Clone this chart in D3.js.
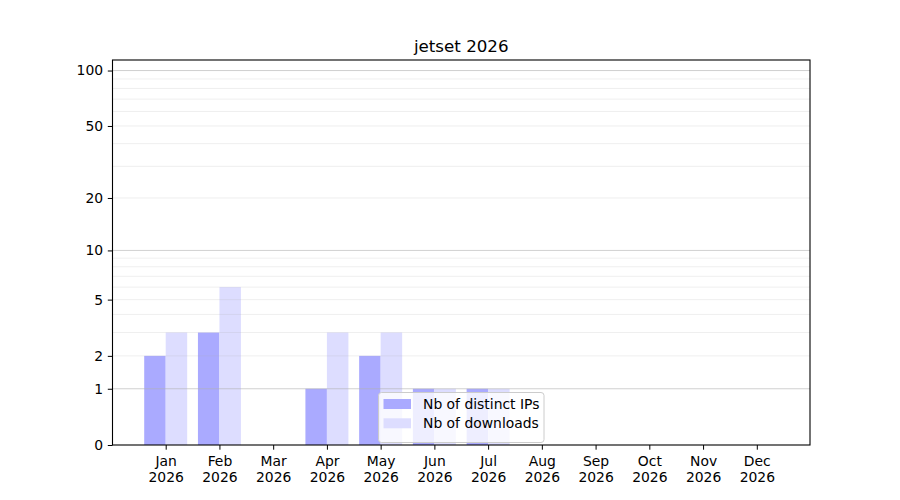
<!DOCTYPE html>
<html>
<head>
<meta charset="utf-8">
<script src="https://cdnjs.cloudflare.com/ajax/libs/d3/7.8.5/d3.min.js"></script>
<style>
  body { margin: 0; background: #fff; }
  text { font-family: "DejaVu Sans", sans-serif; fill: #000; }
</style>
</head>
<body>
<div id="chart"></div>
<script>
var monthLabels = ["Jan","Feb","Mar","Apr","May","Jun","Jul","Aug","Sep","Oct","Nov","Dec"];
var yearLabel = "2026";
var ips = [2, 3, 0, 1, 2, 1, 1, 0, 0, 0, 0, 0];
var downloads = [3, 6, 0, 3, 3, 1, 1, 0, 0, 0, 0, 0];
var yLabelTicks = [0, 1, 2, 5, 10, 20, 50, 100];
var yMajorGrid = [1, 10, 100];
var yMinorGrid = [2, 3, 4, 5, 6, 7, 8, 9, 20, 30, 40, 50, 60, 70, 80, 90];
var title = "jetset 2026";
var seriesNames = ["Nb of distinct IPs", "Nb of downloads"];
var seriesColors = ["#aaaaff", "#ddddff"];

var width = 900, height = 500;
var m = {left: 112.5, right: 90, top: 60, bottom: 55};
var barW = 0.4;
var fs = "13.9px";

var idx = d3.range(monthLabels.length);

// x range like matplotlib: data extent + 5% padding
var xmin = -barW, xmax = idx.length - 1 + barW,
    pad = (xmax - xmin) * 0.05;

var x = d3.scaleLinear()
    .domain([xmin - pad, xmax + pad])
    .range([m.left, width - m.right]);

var y = d3.scaleSymlog().constant(1)
    .domain([0, 114])
    .range([height - m.bottom, m.top]);

var svg = d3.select("#chart").append("svg")
    .attr("width", width)
    .attr("height", height);

// bars
var bars = svg.append("g");
bars.selectAll("rect.ip")
    .data(ips).enter().append("rect")
    .attr("class", "ip")
    .attr("x", function(d, i){ return x(i - barW); })
    .attr("width", function(d, i){ return x(i) - x(i - barW); })
    .attr("y", function(d){ return y(d); })
    .attr("height", function(d){ return y(0) - y(d); })
    .attr("fill", seriesColors[0]);
bars.selectAll("rect.dl")
    .data(downloads).enter().append("rect")
    .attr("class", "dl")
    .attr("x", function(d, i){ return x(i); })
    .attr("width", function(d, i){ return x(i + barW) - x(i); })
    .attr("y", function(d){ return y(d); })
    .attr("height", function(d){ return y(0) - y(d); })
    .attr("fill", seriesColors[1]);

// grid (drawn on top of bars, like matplotlib)
svg.append("g").selectAll("line.minor")
    .data(yMinorGrid).enter().append("line")
    .attr("class", "minor")
    .attr("x1", m.left).attr("x2", width - m.right)
    .attr("y1", function(d){ return y(d); })
    .attr("y2", function(d){ return y(d); })
    .attr("stroke", "#b0b0b0").attr("stroke-opacity", 0.25).attr("stroke-width", 0.8);

svg.append("g").selectAll("line.major")
    .data(yMajorGrid).enter().append("line")
    .attr("class", "major")
    .attr("x1", m.left).attr("x2", width - m.right)
    .attr("y1", function(d){ return y(d); })
    .attr("y2", function(d){ return y(d); })
    .attr("stroke", "#b0b0b0").attr("stroke-opacity", 0.6).attr("stroke-width", 1);

// axes
var yAxis = d3.axisLeft(y).tickValues(yLabelTicks).tickFormat(d3.format("d"))
    .tickSize(4.7).tickPadding(4.7);
var gy = svg.append("g").attr("transform", "translate(" + m.left + ",0)").call(yAxis);
gy.select(".domain").remove();
gy.selectAll("text").style("font-size", fs).style("font-family", "DejaVu Sans");

var xAxis = d3.axisBottom(x).tickValues(idx).tickFormat("")
    .tickSize(4.7);
var gx = svg.append("g").attr("transform", "translate(0," + (height - m.bottom) + ")").call(xAxis);
gx.select(".domain").remove();
gx.selectAll(".tick").each(function(d, i){
    var t = d3.select(this).append("text")
        .attr("text-anchor", "middle")
        .style("font-size", fs)
        .attr("fill", "#000");
    t.append("tspan").attr("x", 0).attr("y", 21).text(monthLabels[i]);
    t.append("tspan").attr("x", 0).attr("y", 37).text(yearLabel);
});

// frame
svg.append("rect")
    .attr("x", m.left).attr("y", m.top)
    .attr("width", width - m.left - m.right)
    .attr("height", height - m.top - m.bottom)
    .attr("fill", "none").attr("stroke", "#000").attr("stroke-width", 1.1);

// title
svg.append("text")
    .attr("x", (m.left + width - m.right) / 2).attr("y", 52)
    .attr("text-anchor", "middle")
    .style("font-size", "16.7px")
    .text(title);

// legend
var lx = 378.5, ly = 392.5;
var legend = svg.append("g").attr("transform", "translate(" + lx + "," + ly + ")");
legend.append("rect")
    .attr("width", 165.5).attr("height", 50).attr("rx", 3)
    .attr("fill", "#fff").attr("fill-opacity", 0.8)
    .attr("stroke", "#cccccc").attr("stroke-width", 1);
seriesNames.forEach(function(name, i){
    legend.append("rect")
        .attr("x", 5).attr("y", 6.5 + i * 19.3)
        .attr("width", 27.5).attr("height", 10)
        .attr("fill", seriesColors[i]);
    legend.append("text")
        .attr("x", 44.5).attr("y", 16.5 + i * 19.3)
        .style("font-size", fs)
        .text(name);
});
</script>
</body>
</html>
